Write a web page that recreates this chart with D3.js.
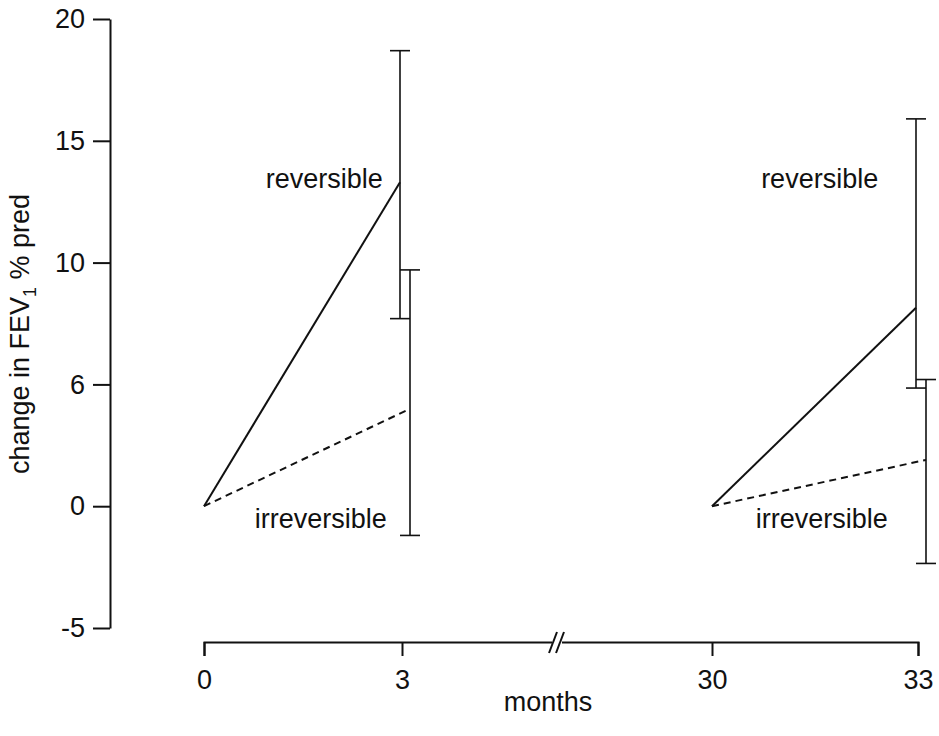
<!DOCTYPE html>
<html>
<head>
<meta charset="utf-8">
<script src="https://cdn.jsdelivr.net/npm/d3@7"></script>
<style>
  body { margin: 0; background: #fff; }
  text { font-family: "Liberation Sans", Arial, Helvetica, sans-serif; fill: #111; }
</style>
</head>
<body>
<div class="chart"></div>
<script>
// month of each period start / end
const periodStart = [0, 30];
const periodEnd = [3, 33];

// mean change in FEV1 % pred at the end of each period, with error bar limits
const reversibleChange = [13.3, 8.15];
const reversibleLow = [7.7, 4.85];
const reversibleHigh = [18.7, 15.9];
const irreversibleChange = [4.0, 1.9];
const irreversibleLow = [-1.2, -2.35];
const irreversibleHigh = [9.7, 5.2];

// axis ticks
const xTicks = [0, 3, 30, 33];
const yTicks = [-5, 0, 5, 10, 15, 20];
const yTickLabels = ["-5", "0", "6", "10", "15", "20"];

// in-plot labels (month, value of baseline)
const labelText = ["reversible", "irreversible", "reversible", "irreversible"];
const labelMonth = [2.71, 2.77, 32.42, 32.56];
const labelValue = [13.05, -0.9, 13.05, -0.9];

const width = 939, height = 736;
const fontSize = 27;

const svg = d3.select(".chart")
  .append("svg")
    .attr("width", width)
    .attr("height", height);

svg.append("rect").attr("width", width).attr("height", height).attr("fill", "#fff");

// broken time axis: 0-3 and 30-33 months
const x = d3.scaleLinear()
  .domain([0, 3, 30, 33])
  .range([204, 402, 712, 918]);

const y = d3.scaleLinear()
  .domain([-5, 20])
  .range([628, 19]);

// Y axis
const yAxis = svg.append("g")
  .attr("transform", "translate(110,0)")
  .call(d3.axisLeft(y)
    .tickValues(yTicks)
    .tickFormat((d, i) => yTickLabels[i])
    .tickSize(17)
    .tickSizeOuter(0)
    .tickPadding(8));
yAxis.selectAll("path, line").attr("stroke", "#111").attr("stroke-width", 2);
yAxis.selectAll("text").attr("font-size", fontSize).attr("font-family", null);

// X axis
const xAxis = svg.append("g")
  .attr("transform", "translate(0,642)")
  .call(d3.axisBottom(x)
    .tickValues(xTicks)
    .tickFormat(d3.format("d"))
    .tickSize(14)
    .tickSizeOuter(14)
    .tickPadding(14));
xAxis.selectAll("path, line").attr("stroke", "#111").attr("stroke-width", 2);
xAxis.selectAll("text").attr("font-size", fontSize).attr("font-family", null);

// axis break "//"
const bx = (x(3) + x(30)) / 2;
svg.append("rect")
  .attr("x", bx - 5).attr("y", 636)
  .attr("width", 10).attr("height", 12)
  .attr("fill", "#fff");
[-4, 3].forEach(off => {
  svg.append("line")
    .attr("x1", bx + off - 4).attr("y1", 653)
    .attr("x2", bx + off + 4).attr("y2", 632)
    .attr("stroke", "#111").attr("stroke-width", 2);
});

// axis titles
svg.append("text")
  .attr("x", 548).attr("y", 711)
  .attr("text-anchor", "middle")
  .attr("font-size", fontSize)
  .text("months");

const yTitle = svg.append("text")
  .attr("transform", "translate(29,334) rotate(-90)")
  .attr("text-anchor", "middle")
  .attr("font-size", fontSize);
yTitle.append("tspan").text("change in FEV");
yTitle.append("tspan").attr("font-size", 18).attr("dy", 7).text("1");
yTitle.append("tspan").attr("dy", -7).text(" % pred");

// series
const series = [
  {change: reversibleChange, low: reversibleLow, high: reversibleHigh, dodge: -2, dash: null},
  {change: irreversibleChange, low: irreversibleLow, high: irreversibleHigh, dodge: 8, dash: "7,5"}
];

const capHalf = 10;

series.forEach(s => {
  periodStart.forEach((m0, i) => {
    const m1 = periodEnd[i];
    const xe = x(m1) + s.dodge;

    // change line from period start (0) to period end
    svg.append("line")
      .attr("x1", x(m0)).attr("y1", y(0))
      .attr("x2", xe).attr("y2", y(s.change[i]))
      .attr("stroke", "#111")
      .attr("stroke-width", 2)
      .attr("stroke-dasharray", s.dash);

    // error bar
    const eb = svg.append("g").attr("stroke", "#111").attr("stroke-width", 1.6);
    eb.append("line")
      .attr("x1", xe).attr("x2", xe)
      .attr("y1", y(s.low[i])).attr("y2", y(s.high[i]));
    [s.low[i], s.high[i]].forEach(v => {
      eb.append("line")
        .attr("x1", xe - capHalf).attr("x2", xe + capHalf)
        .attr("y1", y(v)).attr("y2", y(v));
    });
  });
});

// labels
svg.selectAll(".lab")
  .data(labelText)
  .join("text")
    .attr("class", "lab")
    .attr("x", (d, i) => x(labelMonth[i]))
    .attr("y", (d, i) => y(labelValue[i]))
    .attr("text-anchor", "end")
    .attr("font-size", fontSize)
    .text(d => d);
</script>
</body>
</html>
